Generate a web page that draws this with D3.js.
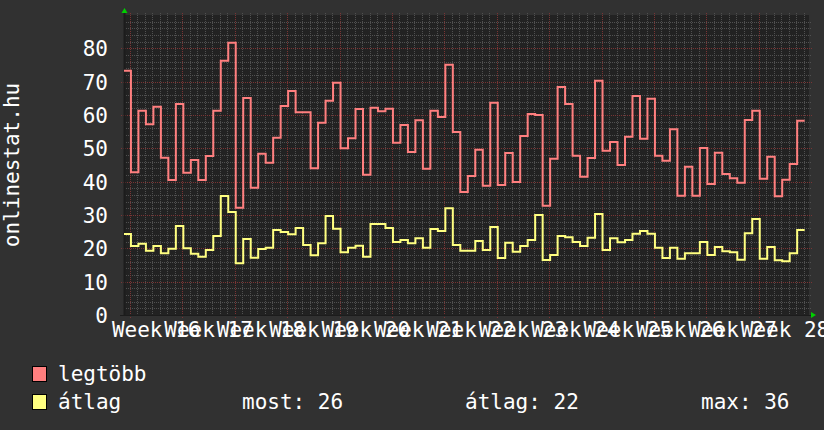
<!DOCTYPE html>
<html><head><meta charset="utf-8">
<script src="https://cdn.jsdelivr.net/npm/d3@7"></script>
<style>
html,body{margin:0;padding:0;background:#313131;}
svg{display:block;}
text{font-family:"DejaVu Sans Mono",monospace;fill:#ffffff;}
</style></head>
<body><svg id="c" width="824" height="430"></svg>
<script>
const weekLabels = ["Week 16","Week 17","Week 18","Week 19","Week 20","Week 21","Week 22","Week 23","Week 24","Week 25","Week 26","Week 27","Week 28"];
const yTicks = [0,10,20,30,40,50,60,70,80];
const maxValues = [73.3,42.8,61.3,57.2,62.5,47.2,40.5,63.3,42.7,46.5,40.5,47.7,61.3,76.3,81.7,32.2,65.1,38.2,48.4,45.7,
  53.2,62.7,67.2,60.8,60.8,44,57.7,64.3,69.7,50,53,61.8,42.1,62.2,61.1,61.9,51.7,57,48.9,58.4,
  43.9,61.3,59.4,75.1,54.9,36.9,41.7,49.6,38.8,63.7,39,48.6,39.9,53.7,60.3,60,32.8,46.9,68.4,63.3,
  47.8,41.5,47.1,70.3,49.3,51.9,45,53.5,65.7,52.9,64.9,47.8,46.3,55.7,35.8,44.5,35.8,50.1,39.3,48.7,
  42.3,41,39.7,58.5,61.3,40.9,47.5,35.6,40.6,45.3,58.3];
const avgValues = [24.3,20.7,21.4,19.3,20.7,18.5,19.9,26.7,20,18.4,17.5,19.5,23.7,35.7,30.9,15.5,22.8,17.2,19.8,20.2,
  25.5,24.9,24.2,26.1,21,17.9,21.5,29.7,25.9,18.8,20.2,20.8,17.5,27.3,27.3,26.1,21.9,22.5,21.5,23,
  20.2,25.8,25.2,32,21,19.3,19.3,22.2,19.5,26.4,17.1,21.7,19,20.7,22.5,30,16.5,18,23.7,23.3,
  21.9,20.7,23.2,30.3,19.5,23,21.8,22.5,24.4,25.2,24.4,20.2,17.1,20.2,16.9,18.5,18.5,21.9,18,20.4,
  19.1,18.8,16.6,24.5,28.8,16.9,20.4,16.4,16.1,18.5,25.5];
const seriesNames = ["legtöbb","átlag"];
const seriesColors = ["#ff7f7f","#ffff80"];
const statLabels = ["most: 26","átlag: 22","max: 36"];
const yTitle = "onlinestat.hu";

const DAY = 864e5, HOUR = 36e5;
const t0 = Date.UTC(2012,3,16); // Monday, ISO week 16
const L = 124, R = 809, T = 15, B = 315;
const x = d3.scaleUtc().domain([new Date(t0 - 0.8015*DAY), new Date(t0 + 90.706*DAY)]).range([L, R]);
const y = d3.scaleLinear().domain([0, 90]).range([B, T]);

const svg = d3.select("#c");
svg.append("rect").attr("width",824).attr("height",430).attr("fill","#313131");
svg.append("rect").attr("x",L).attr("y",T).attr("width",R-L).attr("height",B-T).attr("fill","#222222");

const [d0, d1] = x.domain();
const g = svg.append("g");
// minor grid
const days = d3.utcDay.range(d0, d1).filter(d => d.getUTCDay() !== 1);
g.selectAll(".vm").data(days).join("line")
  .attr("x1", d => Math.round(x(d))+0.5).attr("x2", d => Math.round(x(d))+0.5)
  .attr("y1", T-2).attr("y2", B).attr("stroke","#505050").attr("stroke-dasharray","1,1");
const ym = d3.range(0, 91, 2).filter(v => v % 10 !== 0);
g.selectAll(".hm").data(ym).join("line")
  .attr("x1", L).attr("x2", R+3).attr("y1", v => Math.round(y(v))+0.5).attr("y2", v => Math.round(y(v))+0.5)
  .attr("stroke","#505050").attr("stroke-dasharray","1,1");
// major grid
const mondays = d3.utcMonday.range(d0, d1);
g.selectAll(".vM").data(mondays).join("line")
  .attr("x1", d => Math.round(x(d))+0.5).attr("x2", d => Math.round(x(d))+0.5)
  .attr("y1", T-2).attr("y2", B+3).attr("stroke","#7a3434").attr("stroke-dasharray","1,1");
g.selectAll(".hM").data(yTicks.filter(v=>v>0)).join("line")
  .attr("x1", L-3).attr("x2", R+3).attr("y1", v => Math.round(y(v))+0.5).attr("y2", v => Math.round(y(v))+0.5)
  .attr("stroke","#7a3434").attr("stroke-dasharray","1,1");

// axes lines
svg.append("line").attr("x1",L+0.5).attr("x2",L+0.5).attr("y1",T-3).attr("y2",B+1).attr("stroke","#1c1c1c").attr("stroke-width",2);
svg.append("line").attr("x1",L-4).attr("x2",R+3).attr("y1",B+0.5).attr("y2",B+0.5).attr("stroke","#1c1c1c");
svg.append("path").attr("d",`M${L-2.5},13 L${L+3.5},13 L${L+0.5},8 Z`).attr("fill","#00d000");
svg.append("path").attr("d",`M811,312 L811,318 L816,315 Z`).attr("fill","#00d000");

// data lines
svg.append("clipPath").attr("id","pc").append("rect").attr("x",L).attr("y",T-5).attr("width",R-L).attr("height",B-T+5);
function pts(vals){
  const p = vals.map((v,k) => [new Date(t0 + (k-1)*DAY + 3*HOUR), v]);
  p.push([new Date(t0 + (vals.length-1)*DAY + 3*HOUR), vals[vals.length-1]]);
  return p;
}
const line = d3.line().x(d => x(d[0])).y(d => y(d[1])).curve(d3.curveStepAfter);
const plot = svg.append("g").attr("clip-path","url(#pc)");
[maxValues, avgValues].forEach((vals,i) => {
  plot.append("path").attr("d", line(pts(vals))).attr("fill","none")
    .attr("stroke", seriesColors[i]).attr("stroke-width",2).attr("stroke-linejoin","miter");
});

// y tick labels
svg.selectAll(".yl").data(yTicks).join("text")
  .attr("x",108).attr("y", v => y(v)+8).attr("text-anchor","end").attr("font-size",21).text(v => v);
// x labels
svg.selectAll(".xl").data(mondays.slice(0, weekLabels.length)).join("text")
  .attr("x", d => x(new Date(+d + 3.5*DAY))).attr("y",337).attr("text-anchor","middle").attr("font-size",21)
  .text((d,i) => weekLabels[i]);
// y title
svg.append("text").attr("transform","translate(19,165) rotate(-90)").attr("text-anchor","middle")
  .attr("font-size",21).text(yTitle);

// legend
const leg = [[366, 380.5],[394, 408.5]];
seriesNames.forEach((n,i) => {
  svg.append("rect").attr("x",32.5).attr("y",leg[i][0]+0.5).attr("width",14).attr("height",15)
    .attr("fill",seriesColors[i]).attr("stroke","#000");
  svg.append("text").attr("x",58).attr("y",leg[i][1]).attr("font-size",21).text(n);
});
const statX = [242, 465, 701];
statLabels.forEach((s,i) => svg.append("text").attr("x",statX[i]).attr("y",408.5).attr("font-size",21).text(s));
</script></body></html>
